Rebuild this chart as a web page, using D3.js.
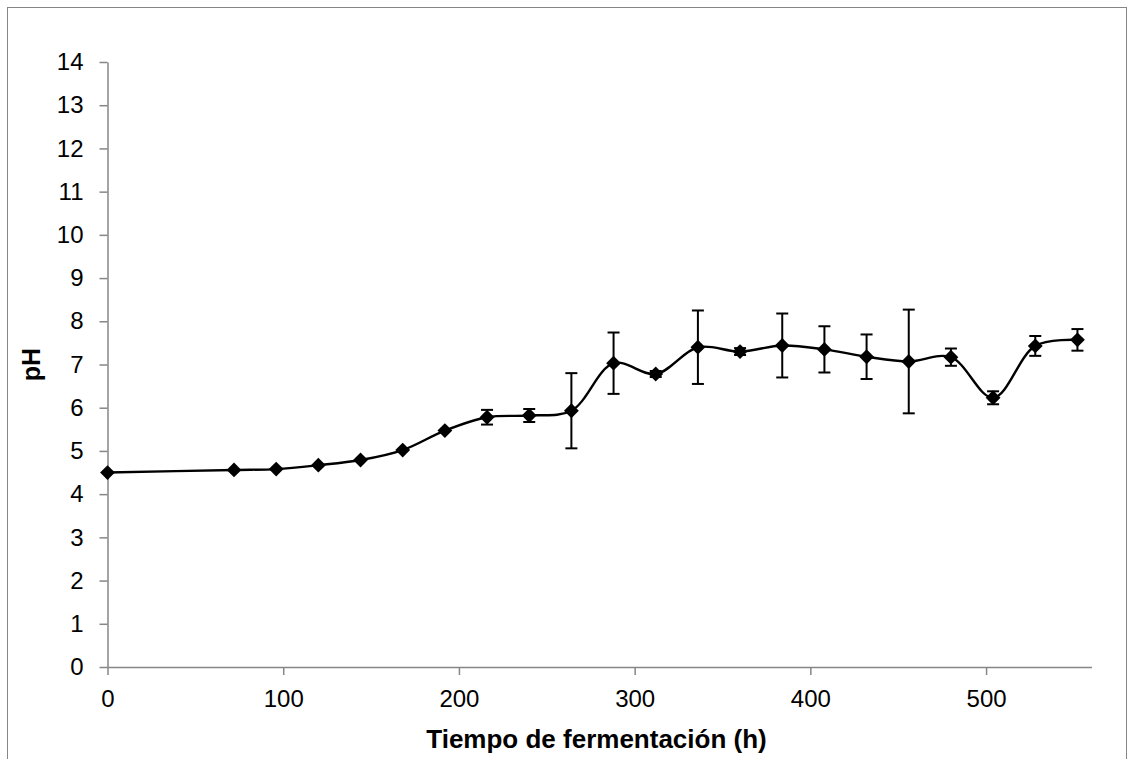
<!DOCTYPE html>
<html>
<head>
<meta charset="utf-8">
<script src="https://cdn.jsdelivr.net/npm/d3@7"></script>
<style>
  html, body { margin: 0; padding: 0; background: #fff; }
  svg { display: block; font-family: "Liberation Sans", Arial, sans-serif; }
</style>
</head>
<body>
<svg id="chart" width="1130" height="759"></svg>
<script>
// Data
const hours = [0, 72, 96, 120, 144, 168, 192, 216, 240, 264, 288, 312, 336, 360, 384, 408, 432, 456, 480, 504, 528, 552];
const phValues = [4.50, 4.56, 4.58, 4.67, 4.79, 5.02, 5.47, 5.78, 5.82, 5.93, 7.03, 6.78, 7.40, 7.30, 7.44, 7.35, 7.18, 7.07, 7.17, 6.23, 7.43, 7.57];
const phErrors = [0, 0, 0, 0, 0, 0, 0, 0.17, 0.15, 0.87, 0.71, 0.07, 0.85, 0.08, 0.74, 0.535, 0.515, 1.2, 0.2, 0.15, 0.23, 0.25];
const xTicks = [0, 100, 200, 300, 400, 500];
const yTicks = [0, 1, 2, 3, 4, 5, 6, 7, 8, 9, 10, 11, 12, 13, 14];
const xTitle = "Tiempo de fermentación (h)";
const yTitle = "pH";

const data = hours.map((h, i) => ({ x: h, y: phValues[i], e: phErrors[i] }));

const svg = d3.select("#chart");
const axisColor = "#868686";

// outer frame
svg.append("rect")
  .attr("x", 7.5).attr("y", 7.5)
  .attr("width", 1119).attr("height", 800)
  .attr("fill", "none").attr("stroke", axisColor).attr("stroke-width", 1);

const mLeft = 107.5, mRight = 1091.5, mTop = 62, mBottom = 667;
const x = d3.scaleLinear().domain([0, 560]).range([mLeft, mRight]);
const y = d3.scaleLinear().domain([0, 14]).range([mBottom, mTop]);

// Y axis
const yAxis = svg.append("g")
  .attr("transform", `translate(${mLeft},0)`)
  .call(d3.axisLeft(y).tickValues(yTicks).tickSize(8).tickSizeOuter(0).tickPadding(16));
yAxis.select(".domain").attr("stroke", axisColor).attr("stroke-width", 1.5);
yAxis.selectAll(".tick line").attr("stroke", axisColor).attr("stroke-width", 1.5);
yAxis.selectAll(".tick text").attr("fill", "#000").attr("font-size", 24).style("font-size", "24px");

// X axis
const xAxis = svg.append("g")
  .attr("transform", `translate(0,${mBottom})`)
  .call(d3.axisBottom(x).tickValues(xTicks).tickSize(8).tickSizeOuter(0).tickPadding(15));
xAxis.select(".domain").attr("stroke", axisColor).attr("stroke-width", 1.5);
xAxis.selectAll(".tick line").attr("stroke", axisColor).attr("stroke-width", 1.5);
xAxis.selectAll(".tick text").attr("fill", "#000").attr("font-size", 24).style("font-size", "24px");

// axis titles
svg.append("text")
  .attr("x", (mLeft + mRight) / 2 - 3).attr("y", 748)
  .attr("text-anchor", "middle")
  .style("font-size", "26px").style("font-weight", "bold")
  .text(xTitle);

svg.append("text")
  .attr("transform", `translate(40,${(mTop + mBottom) / 2}) rotate(-90)`)
  .attr("text-anchor", "middle")
  .style("font-size", "25px").style("font-weight", "bold")
  .text(yTitle);

// smoothed line
const line = d3.line()
  .x(d => x(d.x)).y(d => y(d.y))
  .curve(d3.curveCatmullRom.alpha(0.5));
svg.append("path")
  .datum(data)
  .attr("d", line)
  .attr("fill", "none").attr("stroke", "#000").attr("stroke-width", 2.4);

// error bars
const eb = svg.append("g").attr("stroke", "#000").attr("stroke-width", 2);
const withErr = data.filter(d => d.e > 0);
eb.selectAll("line.v").data(withErr).join("line").attr("class", "v")
  .attr("x1", d => x(d.x)).attr("x2", d => x(d.x))
  .attr("y1", d => y(d.y + d.e)).attr("y2", d => y(d.y - d.e));
eb.selectAll("line.t").data(withErr).join("line").attr("class", "t")
  .attr("x1", d => x(d.x) - 6).attr("x2", d => x(d.x) + 6)
  .attr("y1", d => y(d.y + d.e)).attr("y2", d => y(d.y + d.e));
eb.selectAll("line.b").data(withErr).join("line").attr("class", "b")
  .attr("x1", d => x(d.x) - 6).attr("x2", d => x(d.x) + 6)
  .attr("y1", d => y(d.y - d.e)).attr("y2", d => y(d.y - d.e));

// diamond markers
const diamond = d3.symbol().type(d3.symbolDiamond2).size(140);
svg.append("g").selectAll("path").data(data).join("path")
  .attr("transform", d => `translate(${x(d.x)},${y(d.y)})`)
  .attr("d", diamond)
  .attr("fill", "#000");
</script>
</body>
</html>
